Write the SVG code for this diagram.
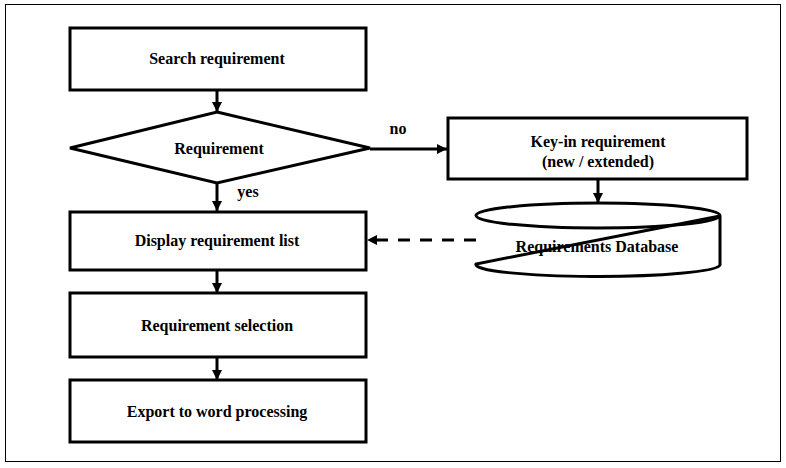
<svg xmlns="http://www.w3.org/2000/svg" width="786" height="468" viewBox="0 0 786 468">
<defs>
<style>
.box{fill:#fff;stroke:#000;stroke-width:3}
.t{font-family:'Liberation Serif','Times New Roman','DejaVu Serif',serif;font-weight:bold;font-size:16px;fill:#000;text-anchor:middle}
.c{stroke:#000;stroke-width:3;fill:none}
</style>
<marker id="ah" viewBox="0 0 10 10" refX="10" refY="5" markerWidth="10" markerHeight="10" markerUnits="userSpaceOnUse" orient="auto">
<path d="M0,0 L10,5 L0,10 z" fill="#000"/>
</marker>
</defs>
<rect x="5.5" y="4.5" width="775" height="457" fill="#fff" stroke="#000" stroke-width="1"/>
<g id="connectors">
<line class="c" x1="217" y1="90" x2="217" y2="112" marker-end="url(#ah)"/>
<line class="c" x1="217" y1="183" x2="217" y2="211" marker-end="url(#ah)"/>
<line class="c" x1="370" y1="149" x2="447" y2="149" marker-end="url(#ah)"/>
<line class="c" x1="598" y1="179" x2="598" y2="203" marker-end="url(#ah)"/>
<line class="c" x1="476" y1="240" x2="367" y2="240" stroke-dasharray="12,10" marker-end="url(#ah)"/>
<line class="c" x1="217" y1="270" x2="217" y2="293" marker-end="url(#ah)"/>
<line class="c" x1="217" y1="357" x2="217" y2="380" marker-end="url(#ah)"/>
<text class="t" font-family="Liberation Serif, serif" x="398" y="134">no</text>
<text class="t" font-family="Liberation Serif, serif" x="248" y="197">yes</text>
</g>
<g id="search">
<rect class="box" x="70" y="28" width="296" height="62"/>
<text class="t" font-family="Liberation Serif, serif" x="217" y="64">Search requirement</text>
</g>
<g id="decision">
<polygon class="box" points="217,112 370,148 217,183 70,148"/>
<text class="t" font-family="Liberation Serif, serif" x="219" y="154">Requirement</text>
</g>
<g id="keyin">
<rect class="box" x="448" y="118" width="299" height="61"/>
<text class="t" font-family="Liberation Serif, serif" x="598" y="147">Key-in requirement</text>
<text class="t" font-family="Liberation Serif, serif" x="598" y="167">(new / extended)</text>
</g>
<g id="database">
<path class="c" d="M720,216 L720,265 A122,12 0 0 1 476,264 L720,216"/>
<ellipse class="c" cx="598" cy="215.5" rx="122" ry="12.5"/>
<text class="t" font-family="Liberation Serif, serif" x="597" y="252">Requirements Database</text>
</g>
<g id="display">
<rect class="box" x="70" y="212" width="296" height="58"/>
<text class="t" font-family="Liberation Serif, serif" x="217" y="246">Display requirement list</text>
</g>
<g id="selection">
<rect class="box" x="70" y="293" width="296" height="64"/>
<text class="t" font-family="Liberation Serif, serif" x="217" y="331">Requirement selection</text>
</g>
<g id="export">
<rect class="box" x="70" y="380" width="296" height="62"/>
<text class="t" font-family="Liberation Serif, serif" x="217" y="417">Export to word processing</text>
</g>
</svg>
